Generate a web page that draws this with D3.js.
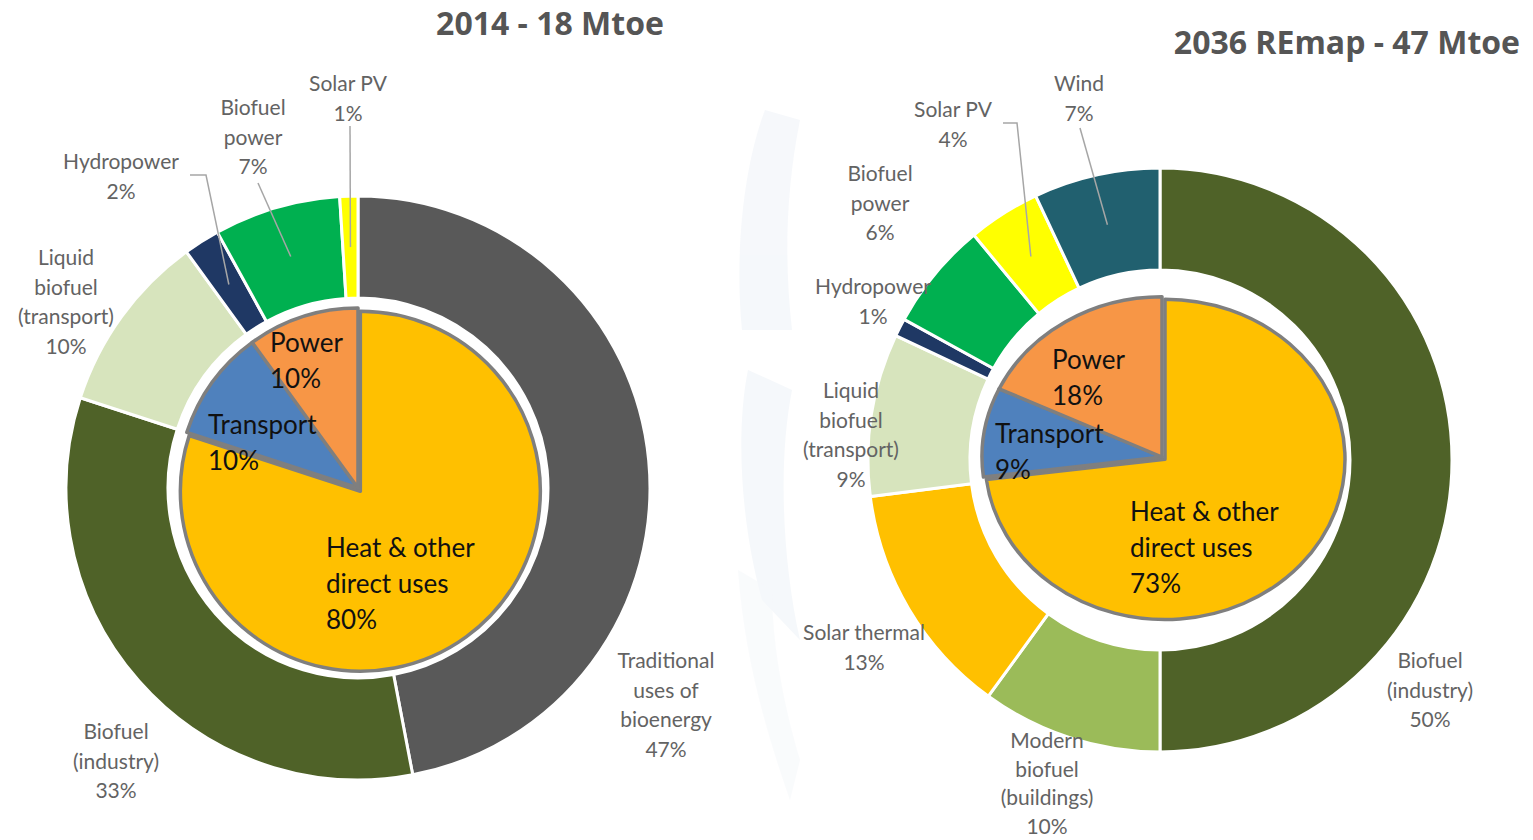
<!DOCTYPE html>
<html>
<head>
<meta charset="utf-8">
<script src="https://cdn.jsdelivr.net/npm/d3@7"></script>
<style>
  body { margin: 0; background: #fff; }
  svg { display: block; }
  .lbl { font-family: Lato, "Open Sans", sans-serif; font-size: 21px; fill: #636363; }
  .inner { font-family: Lato, "Open Sans", sans-serif; font-size: 26px; fill: #111; }
  .title { font-family: "Open Sans", Lato, sans-serif; font-size: 32px; font-weight: bold; fill: #555; }
</style>
</head>
<body>
<svg width="1533" height="840"></svg>
<script>
// 2014 - 18 Mtoe
const outer2014Names = ["Traditional uses of bioenergy", "Biofuel (industry)", "Liquid biofuel (transport)", "Hydropower", "Biofuel power", "Solar PV"];
const outer2014Values = [47, 33, 10, 2, 7, 1];
const inner2014Names = ["Heat & other direct uses", "Transport", "Power"];
const inner2014Values = [80, 10, 10];

// 2036 REmap - 47 Mtoe
const outer2036Names = ["Biofuel (industry)", "Modern biofuel (buildings)", "Solar thermal", "Liquid biofuel (transport)", "Hydropower", "Biofuel power", "Solar PV", "Wind"];
const outer2036Values = [50, 10, 13, 9, 1, 6, 4, 7];
const inner2036Names = ["Heat & other direct uses", "Transport", "Power"];
const inner2036Values = [73, 9, 18];

const titles = ["2014 - 18 Mtoe", "2036 REmap - 47 Mtoe"];

const color = d3.scaleOrdinal()
  .domain(["Traditional uses of bioenergy", "Biofuel (industry)", "Liquid biofuel (transport)", "Hydropower",
           "Biofuel power", "Solar PV", "Wind", "Solar thermal", "Modern biofuel (buildings)",
           "Heat & other direct uses", "Transport", "Power"])
  .range(["#595959", "#4f6228", "#d7e4bd", "#1f3864",
          "#00b050", "#ffff00", "#21606f", "#ffc000", "#9bbb59",
          "#ffc000", "#4f81bd", "#f79646"]);

const svg = d3.select("svg");

// faint watermark in the background between the two charts
const wm = svg.append("g").attr("fill", "#eef3f8").attr("opacity", 0.55);
wm.append("path").attr("d", "M765,110 C742,170 735,260 742,330 L792,330 C784,260 786,190 800,120 Z");
wm.append("path").attr("d", "M748,370 C736,430 740,520 762,600 L800,640 C782,560 778,460 792,390 Z");
wm.append("path").attr("d", "M738,570 C744,650 762,720 790,800 L800,760 C782,700 772,640 772,590 Z").attr("opacity", 0.6);

const pie = d3.pie().sort(null).value(d => d.value);

function drawChart(cfg) {
  const g = svg.append("g").attr("transform", `translate(${cfg.cx},${cfg.cy})`);
  const ringArc = d3.arc().innerRadius(190).outerRadius(292);
  const outerData = pie(cfg.outerNames.map((n, i) => ({ name: n, value: cfg.outerValues[i] })));

  g.selectAll("path.ring")
    .data(outerData)
    .join("path")
    .attr("class", "ring")
    .attr("d", ringArc)
    .attr("fill", d => color(d.data.name))
    .attr("stroke", "#fff")
    .attr("stroke-width", 3);

  // inner pie (heat slice pulled out a little)
  const pieArc = d3.arc().innerRadius(0).outerRadius(cfg.innerR);
  const innerData = pie(cfg.innerNames.map((n, i) => ({ name: n, value: cfg.innerValues[i] })));
  const ig = g.append("g").attr("transform", `translate(${cfg.innerDx},${cfg.innerDy}) scale(1,${cfg.innerSy})`);
  ig.selectAll("path")
    .data(innerData)
    .join("path")
    .attr("d", pieArc)
    .attr("transform", (d, i) => {
      if (i !== 0) return null;
      const a = (d.startAngle + d.endAngle) / 2;
      return `translate(${Math.sin(a) * cfg.explode},${-Math.cos(a) * cfg.explode})`;
    })
    .attr("fill", d => color(d.data.name))
    .attr("stroke", "#7f7f7f")
    .attr("stroke-width", 3.5)
    .attr("stroke-linejoin", "round")
    .attr("vector-effect", "non-scaling-stroke");

  // outer labels and leaders
  cfg.outerLabels.forEach(lab => {
    const d = outerData.find(o => o.data.name === lab.name);
    const lines = lab.lines.concat([d.data.value + "%"]);
    const step = lab.step || 29.5;
    const t = svg.append("text").attr("class", "lbl").attr("text-anchor", "middle");
    lines.forEach((s, k) => {
      t.append("tspan").attr("x", lab.x).attr("y", lab.y + k * step).attr("dy", "0.35em").text(s);
    });
    if (lab.leader) {
      const c = ringArc.centroid(d);
      const pts = lab.leader.concat([[cfg.cx + c[0], cfg.cy + c[1]]]);
      svg.append("path")
        .attr("d", d3.line()(pts))
        .attr("fill", "none")
        .attr("stroke", "#a6a6a6")
        .attr("stroke-width", 1.5);
    }
  });

  // inner labels
  cfg.innerLabels.forEach(lab => {
    const d = innerData.find(o => o.data.name === lab.name);
    const lines = lab.lines.concat([d.data.value + "%"]);
    const t = svg.append("text").attr("class", "inner");
    lines.forEach((s, k) => {
      t.append("tspan").attr("x", lab.x).attr("y", lab.y + k * 36).attr("dy", "0.35em").text(s);
    });
  });

  svg.append("text")
    .attr("class", "title")
    .attr("x", cfg.titleX).attr("y", cfg.titleY)
    .attr("text-anchor", cfg.titleAnchor)
    .attr("dy", "0.35em")
    .text(cfg.title);
}

drawChart({
  cx: 358, cy: 488, innerR: 180, innerDx: 0, innerDy: 0, innerSy: 1, explode: 4,
  outerNames: outer2014Names, outerValues: outer2014Values,
  innerNames: inner2014Names, innerValues: inner2014Values,
  title: titles[0], titleX: 550, titleY: 24, titleAnchor: "middle",
  outerLabels: [
    { name: "Solar PV", lines: ["Solar PV"], x: 348, y: 84, leader: [[350, 126]] },
    { name: "Biofuel power", lines: ["Biofuel", "power"], x: 253, y: 108, leader: [[258, 183]] },
    { name: "Hydropower", lines: ["Hydropower"], x: 121, y: 162, leader: [[190, 175], [206, 175]] },
    { name: "Liquid biofuel (transport)", lines: ["Liquid", "biofuel", "(transport)"], x: 66, y: 258 },
    { name: "Biofuel (industry)", lines: ["Biofuel", "(industry)"], x: 116, y: 732 },
    { name: "Traditional uses of bioenergy", lines: ["Traditional", "uses of", "bioenergy"], x: 666, y: 661 }
  ],
  innerLabels: [
    { name: "Power", lines: ["Power"], x: 270, y: 343 },
    { name: "Transport", lines: ["Transport"], x: 208, y: 425 },
    { name: "Heat & other direct uses", lines: ["Heat & other", "direct uses"], x: 326, y: 548 }
  ]
});

drawChart({
  cx: 1160, cy: 460, innerR: 180, innerDx: 2, innerDy: -3, innerSy: 0.89, explode: 4,
  outerNames: outer2036Names, outerValues: outer2036Values,
  innerNames: inner2036Names, innerValues: inner2036Values,
  title: titles[1], titleX: 1520, titleY: 43, titleAnchor: "end",
  outerLabels: [
    { name: "Wind", lines: ["Wind"], x: 1079, y: 84, leader: [[1080, 128]] },
    { name: "Solar PV", lines: ["Solar PV"], x: 953, y: 110, leader: [[1003, 123], [1017, 123]] },
    { name: "Biofuel power", lines: ["Biofuel", "power"], x: 880, y: 174 },
    { name: "Hydropower", lines: ["Hydropower"], x: 873, y: 287 },
    { name: "Liquid biofuel (transport)", lines: ["Liquid", "biofuel", "(transport)"], x: 851, y: 391 },
    { name: "Solar thermal", lines: ["Solar thermal"], x: 864, y: 633 },
    { name: "Modern biofuel (buildings)", lines: ["Modern", "biofuel", "(buildings)"], x: 1047, y: 741, step: 28.5 },
    { name: "Biofuel (industry)", lines: ["Biofuel", "(industry)"], x: 1430, y: 661 }
  ],
  innerLabels: [
    { name: "Power", lines: ["Power"], x: 1052, y: 360 },
    { name: "Transport", lines: ["Transport"], x: 995, y: 434 },
    { name: "Heat & other direct uses", lines: ["Heat & other", "direct uses"], x: 1130, y: 512 }
  ]
});
</script>
</body>
</html>
